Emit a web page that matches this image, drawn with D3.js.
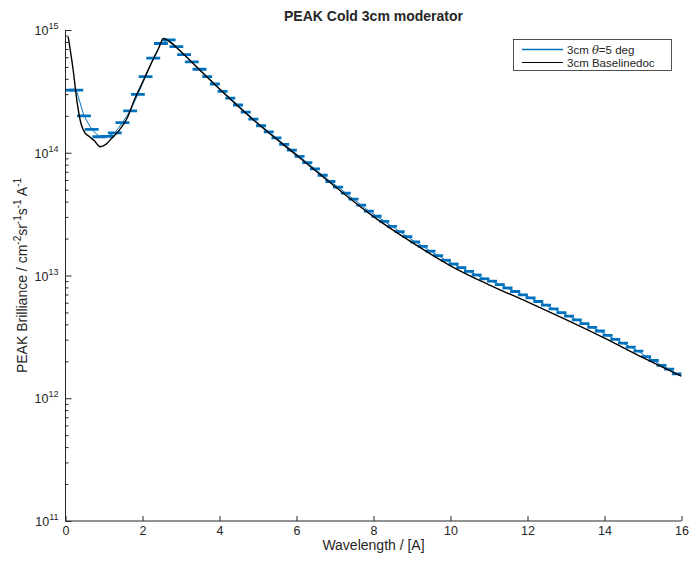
<!DOCTYPE html>
<html>
<head>
<meta charset="utf-8">
<script src="https://cdn.jsdelivr.net/npm/d3@7"></script>
<style>
  body { margin: 0; background: #fff; }
  text { font-family: "Liberation Sans", Arial, Helvetica, sans-serif; fill: #262626; }
</style>
</head>
<body>
<svg id="chart" width="693" height="562"></svg>
<script>
// 3cm theta=5 deg, binned (bin centre in A, brilliance)
const binCentres = [0.08, 0.28, 0.48, 0.68, 0.88, 1.08, 1.28, 1.48, 1.68, 1.88,
  2.08, 2.28, 2.48, 2.68, 2.88, 3.08, 3.28, 3.48, 3.68, 3.88,
  4.08, 4.28, 4.48, 4.68, 4.88, 5.08, 5.28, 5.48, 5.68, 5.88,
  6.08, 6.28, 6.48, 6.68, 6.88, 7.08, 7.28, 7.48, 7.68, 7.88,
  8.08, 8.28, 8.48, 8.68, 8.88, 9.08, 9.28, 9.48, 9.68, 9.88,
  10.08, 10.28, 10.48, 10.68, 10.88, 11.08, 11.28, 11.48, 11.68, 11.88,
  12.08, 12.28, 12.48, 12.68, 12.88, 13.08, 13.28, 13.48, 13.68, 13.88,
  14.08, 14.28, 14.48, 14.68, 14.88, 15.08, 15.28, 15.48, 15.68, 15.88];
const binValues = [3.24e14, 3.24e14, 2.0e14, 1.55e14, 1.35e14, 1.36e14, 1.45e14, 1.76e14, 2.19e14, 2.99e14,
  4.17e14, 5.89e14, 7.76e14, 8.32e14, 7.31e14, 6.31e14, 5.50e14, 4.79e14, 4.17e14, 3.63e14,
  3.16e14, 2.79e14, 2.45e14, 2.14e14, 1.88e14, 1.66e14, 1.48e14, 1.32e14, 1.17e14, 1.05e14,
  9.33e13, 8.32e13, 7.38e13, 6.56e13, 5.83e13, 5.25e13, 4.69e13, 4.19e13, 3.74e13, 3.34e13,
  3.04e13, 2.76e13, 2.51e13, 2.28e13, 2.07e13, 1.88e13, 1.73e13, 1.58e13, 1.45e13, 1.33e13,
  1.24e13, 1.16e13, 1.08e13, 1.01e13, 9.40e12, 8.99e12, 8.43e12, 7.91e12, 7.41e12, 6.95e12,
  6.58e12, 6.14e12, 5.73e12, 5.35e12, 4.99e12, 4.66e12, 4.35e12, 4.06e12, 3.78e12, 3.53e12,
  3.25e12, 3.02e12, 2.81e12, 2.61e12, 2.42e12, 2.18e12, 2.03e12, 1.85e12, 1.73e12, 1.58e12];

// 3cm Baselinedoc
const baseLambda = [0.07, 0.2, 0.3, 0.4, 0.5, 0.6, 0.75, 0.9, 1.05, 1.2, 1.4, 1.6, 1.8, 2.0, 2.2, 2.4,
  2.55, 2.7, 3.0, 3.5, 4, 5, 6, 7, 8, 9, 10, 11, 12, 13, 14, 15, 16];
const baseValues = [8.8e14, 4.7e14, 2.6e14, 1.74e14, 1.46e14, 1.37e14, 1.25e14, 1.12e14, 1.17e14, 1.31e14,
  1.53e14, 1.91e14, 2.75e14, 3.75e14, 5.13e14, 6.87e14, 8.55e14, 8.03e14, 6.65e14, 4.68e14,
  3.31e14, 1.72e14, 9.55e13, 5.31e13, 3.02e13, 1.86e13, 1.20e13, 8.40e12, 6.10e12, 4.37e12,
  3.09e12, 2.14e12, 1.51e12];

const xTicks = [0, 2, 4, 6, 8, 10, 12, 14, 16];
const yExponents = [11, 12, 13, 14, 15];
const legendLabels = ["3cm", "3cm Baselinedoc"];

const BLUE = "#0072BD";
const AXIS = "#262626";

var svg = d3.select("#chart");
var pLeft = 65.5, pRight = 681.5, pTop = 30, pBottom = 521;

var x = d3.scaleLinear().domain([0, 16]).range([pLeft, pRight]);
var y = d3.scaleLog().domain([1e11, 1e15]).range([pBottom, pTop]);

svg.append("defs").append("clipPath").attr("id", "plotclip")
  .append("rect").attr("x", pLeft).attr("y", pTop).attr("width", pRight - pLeft).attr("height", pBottom - pTop);

var plot = svg.append("g").attr("clip-path", "url(#plotclip)");

// blue bins
var bins = binCentres.map((c, i) => ({ c: c, v: binValues[i], h: c < 3.6 ? 0.18 : 0.13 }));

plot.append("path")
  .datum(bins)
  .attr("fill", "none")
  .attr("stroke", BLUE)
  .attr("stroke-width", 1)
  .attr("d", d3.line().x(d => x(d.c)).y(d => y(d.v)));

plot.append("g")
  .selectAll("line")
  .data(bins)
  .enter()
  .append("line")
    .attr("x1", d => x(d.c - d.h))
    .attr("x2", d => x(d.c + d.h))
    .attr("y1", d => y(d.v))
    .attr("y2", d => y(d.v))
    .attr("stroke", BLUE)
    .attr("stroke-width", 2.8);

// black baseline curve
plot.append("path")
  .datum(baseLambda.map((l, i) => [l, baseValues[i]]))
  .attr("fill", "none")
  .attr("stroke", "#000")
  .attr("stroke-width", 1.4)
  .attr("d", d3.line().curve(d3.curveMonotoneX).x(d => x(d[0])).y(d => y(d[1])));

// x axis
var xAxis = svg.append("g")
  .attr("transform", "translate(0," + pBottom + ")")
  .call(d3.axisBottom(x).tickValues(xTicks).tickSizeInner(-5).tickSizeOuter(0).tickPadding(5).tickFormat(d3.format("d")));
xAxis.select(".domain").attr("stroke", AXIS).attr("d", "M" + pLeft + ",0H" + pRight);
xAxis.selectAll(".tick line").attr("stroke", AXIS);
xAxis.selectAll(".tick text").attr("font-size", 12.5).attr("fill", AXIS)
  .style("font-family", '"Liberation Sans", Arial, sans-serif');

// y axis, major and minor ticks
var minor = [];
yExponents.slice(0, -1).forEach(e => { for (var m = 2; m <= 9; m++) minor.push(m * Math.pow(10, e)); });

var yMinor = svg.append("g")
  .attr("transform", "translate(" + pLeft + ",0)")
  .call(d3.axisLeft(y).tickValues(minor).tickSizeInner(-3).tickSizeOuter(0).tickFormat(""));
yMinor.select(".domain").remove();
yMinor.selectAll(".tick line").attr("stroke", AXIS);

var yAxis = svg.append("g")
  .attr("transform", "translate(" + pLeft + ",0)")
  .call(d3.axisLeft(y).tickValues(yExponents.map(e => Math.pow(10, e))).tickSizeInner(-6).tickSizeOuter(0).tickFormat(""));
yAxis.select(".domain").attr("stroke", AXIS).attr("d", "M0," + pBottom + "V" + pTop);
yAxis.selectAll(".tick line").attr("stroke", AXIS);

var yLab = svg.append("g");
yExponents.forEach(e => {
  var t = yLab.append("text")
    .attr("x", pLeft - 7)
    .attr("y", y(Math.pow(10, e)) + 5)
    .attr("text-anchor", "end")
    .attr("font-size", 12.5);
  t.append("tspan").text("10");
  t.append("tspan").attr("dy", -6).attr("font-size", 9).text(e);
});

// title and labels
svg.append("text")
  .attr("x", (pLeft + pRight) / 2)
  .attr("y", 21)
  .attr("text-anchor", "middle")
  .attr("font-size", 14)
  .attr("font-weight", "bold")
  .attr("fill", "#000")
  .text("PEAK Cold 3cm moderator");

svg.append("text")
  .attr("x", (pLeft + pRight) / 2)
  .attr("y", 550)
  .attr("text-anchor", "middle")
  .attr("font-size", 14)
  .text("Wavelength / [A]");

var yl = svg.append("text")
  .attr("transform", "translate(21," + ((pTop + pBottom) / 2) + ") rotate(-90)")
  .attr("text-anchor", "middle")
  .attr("font-size", 14);
[["PEAK Brilliance / cm", "-2"], ["sr", "-1"], ["s", "-1"], [" A", "-1"]].forEach(p => {
  yl.append("tspan").attr("dy", 6).text(p[0]);
  yl.append("tspan").attr("dy", -6).attr("font-size", 10).text(p[1]);
});

// legend
var lg = svg.append("g");
lg.append("rect")
  .attr("x", 513.5).attr("y", 39.5).attr("width", 158).attr("height", 31)
  .attr("fill", "#fff").attr("stroke", AXIS).attr("stroke-width", 0.8);
[[BLUE, 49.5], ["#000", 62.5]].forEach((s, i) => {
  lg.append("line")
    .attr("x1", 522).attr("x2", 563).attr("y1", s[1]).attr("y2", s[1])
    .attr("stroke", s[0]).attr("stroke-width", i === 0 ? 1.3 : 1.2);
});
var l1 = lg.append("text").attr("x", 567).attr("y", 53.5).attr("font-size", 11.5).attr("fill", "#000");
l1.append("tspan").text(legendLabels[0] + " ");
l1.append("tspan").attr("font-style", "italic").style("font-family", '"DejaVu Serif", "Liberation Serif", serif').text("θ");
l1.append("tspan").text("=5 deg");
lg.append("text").attr("x", 567).attr("y", 66.5).attr("font-size", 11.5).attr("fill", "#000").text(legendLabels[1]);
</script>
</body>
</html>
